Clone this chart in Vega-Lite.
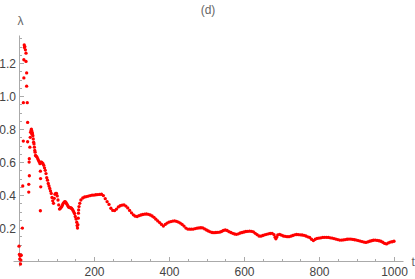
{
  "$schema": "https://vega.github.io/schema/vega-lite/v6.json",
  "autosize": {"type": "none"},
  "width": 390,
  "height": 231,
  "padding": {"left": 13, "top": 35, "right": 12, "bottom": 13},
  "title": {"text": "(d)", "anchor": "middle", "font": "Liberation Sans", "fontSize": 12, "fontWeight": "normal", "color": "#666666", "offset": -3},
  "config": {"view": {"stroke": null}, "axis": {"grid": false, "labelFont": "Liberation Sans", "labelFontSize": 12, "labelColor": "#444444", "domainColor": "#aaaaaa", "tickColor": "#aaaaaa", "labelFlush": false, "labelOverlap": false}},
  "datasets": {
    "pts": [
      {"t":0,"l":0.09},{"t":1,"l":0.04},{"t":2,"l":0.012},{"t":3,"l":0.03},{"t":4,"l":-0.018},{"t":5,"l":0.006},{"t":6,"l":0.035},
      {"t":9,"l":0.2},{"t":10,"l":0.455},{"t":11.5,"l":0.727},{"t":11.6,"l":0.96},{"t":13,"l":1.11},{"t":13,"l":1.22},
      {"t":14,"l":1.31},{"t":14.5,"l":1.295},{"t":15.5,"l":1.3},{"t":17,"l":1.28},{"t":18.7,"l":1.26},{"t":18.7,"l":1.21},
      {"t":20.4,"l":1.14},{"t":20.4,"l":1.06},{"t":22,"l":0.96},{"t":23,"l":0.84},{"t":23,"l":0.723},
      {"t":26,"l":0.418},{"t":26,"l":0.465},{"t":27.6,"l":0.517},{"t":27,"l":0.6},{"t":27.5,"l":0.62},{"t":29,"l":0.69},
      {"t":30,"l":0.75},{"t":31,"l":0.78},{"t":32,"l":0.79},{"t":33,"l":0.8},{"t":34,"l":0.79},{"t":34,"l":0.77},{"t":35,"l":0.78},{"t":36,"l":0.77},{"t":37,"l":0.76},
      {"t":38,"l":0.74},{"t":39,"l":0.72},{"t":40,"l":0.71},{"t":41,"l":0.69},{"t":42,"l":0.67},{"t":43,"l":0.66},{"t":44,"l":0.64},
      {"t":46,"l":0.635},{"t":48,"l":0.63},{"t":50,"l":0.62},{"t":52,"l":0.61},{"t":54,"l":0.6},{"t":56,"l":0.59},
      {"t":57,"l":0.545},{"t":57.5,"l":0.5},{"t":58,"l":0.45},{"t":57,"l":0.305},
      {"t":58,"l":0.6},{"t":60,"l":0.6},{"t":62,"l":0.595},{"t":64,"l":0.59},{"t":66,"l":0.58},{"t":68,"l":0.565},{"t":70,"l":0.55},
      {"t":72,"l":0.53},{"t":74,"l":0.505},{"t":76,"l":0.49},{"t":78,"l":0.47},{"t":80,"l":0.455},{"t":82,"l":0.44},{"t":84,"l":0.425},
      {"t":86,"l":0.41},{"t":88,"l":0.385},{"t":90,"l":0.365},{"t":92,"l":0.35},{"t":94,"l":0.38},{"t":96,"l":0.405},{"t":98,"l":0.41},
      {"t":100,"l":0.41},{"t":102,"l":0.395},{"t":104,"l":0.37},{"t":106,"l":0.34},{"t":108,"l":0.315},{"t":110,"l":0.318},{"t":112,"l":0.325},
      {"t":114,"l":0.33},{"t":116,"l":0.34},{"t":118,"l":0.35},{"t":120,"l":0.355},{"t":122,"l":0.36},{"t":124,"l":0.358},{"t":126,"l":0.352},
      {"t":128,"l":0.345},{"t":130,"l":0.335},{"t":132,"l":0.328},{"t":134,"l":0.325},{"t":136,"l":0.324},{"t":138,"l":0.322},{"t":140,"l":0.32},
      {"t":142,"l":0.315},{"t":144,"l":0.307},{"t":146,"l":0.298},{"t":148,"l":0.288},{"t":150,"l":0.27},{"t":152,"l":0.255},{"t":154,"l":0.235},
      {"t":155,"l":0.215},{"t":156,"l":0.2},{"t":157,"l":0.22},{"t":158,"l":0.26},{"t":158.5,"l":0.29},{"t":159,"l":0.31},
      {"t":160,"l":0.33},{"t":162,"l":0.35},{"t":165,"l":0.37},{"t":170,"l":0.382},{"t":175,"l":0.388},{"t":180,"l":0.391},{"t":185,"l":0.394},
      {"t":190,"l":0.397},{"t":195,"l":0.399},{"t":200,"l":0.4},{"t":205,"l":0.402},{"t":210,"l":0.403},{"t":215,"l":0.404},{"t":220,"l":0.405},
      {"t":225,"l":0.397},{"t":230,"l":0.378},{"t":235,"l":0.36},{"t":240,"l":0.343},{"t":245,"l":0.32},{"t":250,"l":0.307},{"t":255,"l":0.306},
      {"t":260,"l":0.315},{"t":265,"l":0.328},{"t":270,"l":0.335},{"t":275,"l":0.339},{"t":280,"l":0.34},{"t":285,"l":0.333},{"t":290,"l":0.322},
      {"t":295,"l":0.307},{"t":300,"l":0.292},{"t":305,"l":0.28},{"t":310,"l":0.272},{"t":315,"l":0.27},{"t":320,"l":0.275},{"t":325,"l":0.279},
      {"t":330,"l":0.282},{"t":335,"l":0.284},{"t":340,"l":0.285},{"t":345,"l":0.283},{"t":350,"l":0.279},{"t":355,"l":0.273},{"t":360,"l":0.265},
      {"t":365,"l":0.254},{"t":370,"l":0.243},{"t":375,"l":0.233},{"t":380,"l":0.222},{"t":385,"l":0.212},{"t":390,"l":0.222},{"t":395,"l":0.23},
      {"t":400,"l":0.236},{"t":405,"l":0.239},{"t":410,"l":0.242},{"t":415,"l":0.243},{"t":420,"l":0.241},{"t":425,"l":0.236},{"t":430,"l":0.23},
      {"t":435,"l":0.222},{"t":440,"l":0.212},{"t":445,"l":0.2},{"t":450,"l":0.194},{"t":455,"l":0.193},{"t":460,"l":0.193},{"t":465,"l":0.194},
      {"t":470,"l":0.197},{"t":475,"l":0.199},{"t":480,"l":0.201},{"t":485,"l":0.202},{"t":490,"l":0.201},{"t":495,"l":0.195},{"t":500,"l":0.188},
      {"t":505,"l":0.182},{"t":510,"l":0.177},{"t":515,"l":0.173},{"t":520,"l":0.172},{"t":525,"l":0.173},{"t":530,"l":0.174},{"t":535,"l":0.175},
      {"t":540,"l":0.179},{"t":545,"l":0.185},{"t":550,"l":0.188},{"t":555,"l":0.185},{"t":560,"l":0.178},{"t":565,"l":0.173},{"t":570,"l":0.168},
      {"t":575,"l":0.164},{"t":580,"l":0.162},{"t":585,"l":0.165},{"t":590,"l":0.17},{"t":595,"l":0.173},{"t":600,"l":0.176},{"t":605,"l":0.179},
      {"t":610,"l":0.18},{"t":615,"l":0.181},{"t":620,"l":0.18},{"t":625,"l":0.177},{"t":630,"l":0.168},{"t":635,"l":0.16},{"t":640,"l":0.152},
      {"t":645,"l":0.151},{"t":650,"l":0.155},{"t":655,"l":0.159},{"t":660,"l":0.162},{"t":665,"l":0.165},{"t":670,"l":0.167},{"t":675,"l":0.168},
      {"t":680,"l":0.16},{"t":683,"l":0.145},{"t":685,"l":0.135},{"t":687,"l":0.145},{"t":690,"l":0.158},{"t":695,"l":0.162},{"t":700,"l":0.157},
      {"t":705,"l":0.152},{"t":710,"l":0.15},{"t":715,"l":0.148},{"t":720,"l":0.148},{"t":725,"l":0.151},{"t":730,"l":0.155},{"t":735,"l":0.159},
      {"t":740,"l":0.161},{"t":745,"l":0.16},{"t":750,"l":0.159},{"t":755,"l":0.158},{"t":760,"l":0.156},{"t":765,"l":0.152},{"t":770,"l":0.147},
      {"t":775,"l":0.143},{"t":780,"l":0.132},{"t":785,"l":0.124},{"t":790,"l":0.132},{"t":795,"l":0.137},{"t":800,"l":0.139},{"t":805,"l":0.141},
      {"t":810,"l":0.143},{"t":815,"l":0.144},{"t":820,"l":0.144},{"t":825,"l":0.143},{"t":830,"l":0.141},{"t":835,"l":0.139},{"t":840,"l":0.136},
      {"t":845,"l":0.133},{"t":850,"l":0.13},{"t":855,"l":0.127},{"t":860,"l":0.127},{"t":865,"l":0.128},{"t":870,"l":0.13},{"t":875,"l":0.132},
      {"t":880,"l":0.133},{"t":885,"l":0.133},{"t":890,"l":0.131},{"t":895,"l":0.129},{"t":900,"l":0.127},{"t":905,"l":0.124},{"t":910,"l":0.121},
      {"t":915,"l":0.118},{"t":920,"l":0.115},{"t":925,"l":0.113},{"t":930,"l":0.116},{"t":935,"l":0.12},{"t":940,"l":0.123},{"t":945,"l":0.126},
      {"t":950,"l":0.127},{"t":955,"l":0.125},{"t":960,"l":0.123},{"t":965,"l":0.12},{"t":970,"l":0.114},{"t":975,"l":0.107},{"t":980,"l":0.104},
      {"t":985,"l":0.11},{"t":990,"l":0.115},{"t":995,"l":0.117},{"t":1000,"l":0.12}
    ]
  },
  "layer": [
    {
      "data": {"name": "pts"},
      "mark": {"type": "point", "filled": true, "size": 11, "color": "#ff0000", "opacity": 1},
      "encoding": {
        "x": {"field": "t", "type": "quantitative", "scale": {"domain": [-16, 1024], "nice": false, "zero": false},
              "axis": {"orient": "bottom", "offset": -5, "values": [200, 400, 600, 800, 1000], "format": "d", "tickSize": -4.5, "labelPadding": 10,
                       "title": "t", "titleFont": "Liberation Sans", "titleFontSize": 12, "titleFontWeight": "normal", "titleColor": "#666666",
                       "titleAngle": 0, "titleAlign": "left", "titleBaseline": "middle", "titleX": 398, "titleY": 0}},
        "y": {"field": "l", "type": "quantitative", "scale": {"domain": [-0.03, 1.37], "nice": false, "zero": false},
              "axis": {"orient": "left", "offset": -6, "values": [0.2, 0.4, 0.6, 0.8, 1.0, 1.2], "format": ".1f", "tickSize": -4.5, "labelPadding": 8,
                       "title": "λ", "titleFont": "Liberation Sans", "titleFontSize": 12, "titleFontWeight": "normal", "titleColor": "#666666",
                       "titleAngle": 0, "titleAlign": "center", "titleBaseline": "bottom", "titleX": 1, "titleY": -8}}
      }
    },
    {
      "data": {"values": []},
      "mark": {"type": "point", "opacity": 0},
      "encoding": {
        "x": {"field": "t", "type": "quantitative",
              "axis": {"orient": "bottom", "offset": -5, "values": [50,100,150,250,300,350,450,500,550,650,700,750,850,900,950], "tickSize": -2.5, "labels": false, "domain": false, "title": null}},
        "y": {"field": "l", "type": "quantitative",
              "axis": {"orient": "left", "offset": -6, "values": [0.05,0.1,0.15,0.25,0.3,0.35,0.45,0.5,0.55,0.65,0.7,0.75,0.85,0.9,0.95,1.05,1.1,1.15,1.25,1.3,1.35], "tickSize": -2.5, "labels": false, "domain": false, "title": null}}
      }
    }
  ],
  "resolve": {"axis": {"x": "independent", "y": "independent"}}
}
